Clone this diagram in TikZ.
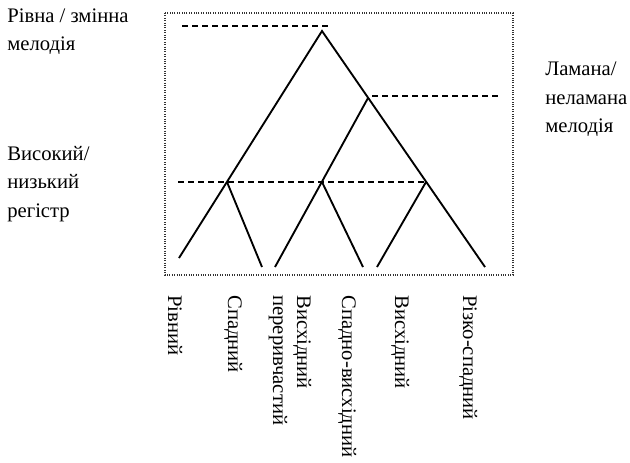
\documentclass[tikz,border=0pt]{standalone}
\usepackage{fontspec}
\setmainfont{Liberation Serif}
\usetikzlibrary{positioning}
\definecolor{C_ink}{RGB}{0,0,0}
\definecolor{C_frame}{RGB}{50,50,50}

\begin{document}
\begin{tikzpicture}[x=0.75pt, y=-0.75pt, every node/.style={font=\fontsize{15.5}{21.4}\selectfont, text=C_ink}]
  \tikzset{
    frame/.style={draw=C_frame, densely dotted, line width=0.8pt},
    branch/.style={draw=C_ink, line width=1.4pt, line join=miter},
    level/.style={draw=C_ink, line width=1pt, dash pattern=on 4.5pt off 3pt},
    tag/.style={anchor=north west, align=left, inner sep=0pt},
    leaf/.style={rotate=-90, anchor=base west, inner sep=0pt, align=left}
  }
  \useasboundingbox (0,0) rectangle (630,462);

  \draw[frame] (165,13) rectangle (513,275);

  % tree points
  \coordinate (root) at (322,31);
  \coordinate (nR) at (368,98);
  \coordinate (nA) at (227,182);
  \coordinate (nB) at (322,182);
  \coordinate (nC) at (426,182);
  \coordinate (l1) at (179,258);
  \coordinate (l2) at (262,267);
  \coordinate (l3) at (275,267);
  \coordinate (l4) at (363,267);
  \coordinate (l5) at (377,267);
  \coordinate (l6) at (485,267);

  % level guides
  \coordinate (topW) at (182,26);
  \coordinate (topE) at (328,26);
  \coordinate (midW) at (372,96);
  \coordinate (midE) at (500,96);
  \coordinate (lowW) at (178,182);
  \draw[level] (topW) -- (topE);
  \draw[level] (midW) -- (midE);
  \draw[level] (lowW) -- (nC);

  \draw[branch] (l1) -- (root) -- (l6);
  \draw[branch] (nR) -- (l3);
  \draw[branch] (nA) -- (l2);
  \draw[branch] (nB) -- (l4);
  \draw[branch] (nC) -- (l5);

  % side labels
  \node[tag] (contour) at (7,8.5) {Рівна / змінна\\мелодія};
  \node[tag] (register) at (7,146) {Високий/\\низький\\регістр};
  \node[tag] (broken) at (545,62) {Ламана/\\неламана\\мелодія};

  % tone labels
  \node[leaf] (rivnyi) at (168,295) {Рівний};
  \node[leaf] (spadnyi) at (228,295) {Спадний};
  \node[leaf, font=\fontsize{15.5}{18}\selectfont] (pererv) at (273,295) {Висхідний\\переривчастий};
  \node[leaf] (spadvys) at (342,295) {Спадно-висхідний};
  \node[leaf] (vyskh) at (395,295) {Висхідний};
  \node[leaf] (rizko) at (463,295) {Різко-спадний};
\end{tikzpicture}
\end{document}
